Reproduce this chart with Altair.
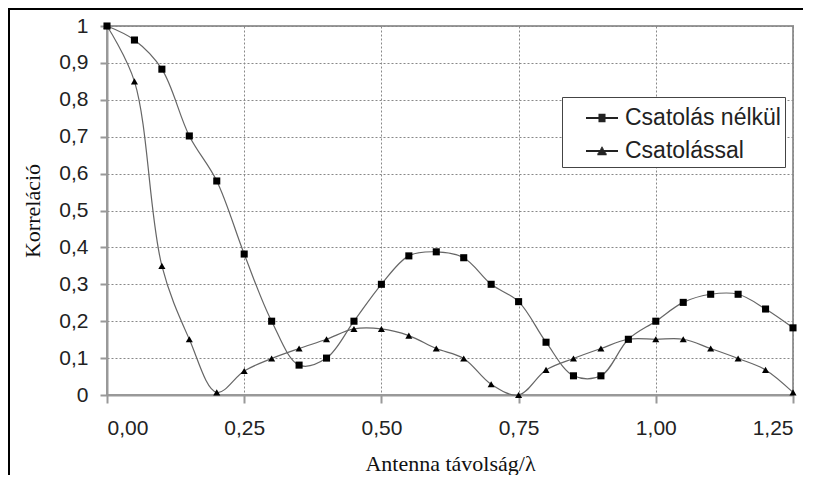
import altair as alt
import pandas as pd

# ---- data ----
x_vals = [0.00, 0.05, 0.10, 0.15, 0.20, 0.25, 0.30, 0.35, 0.40, 0.45, 0.50, 0.55, 0.60,
          0.65, 0.70, 0.75, 0.80, 0.85, 0.90, 0.95, 1.00, 1.05, 1.10, 1.15, 1.20, 1.25]
csatolas_nelkul = [1.00, 0.962, 0.883, 0.702, 0.58, 0.382, 0.20, 0.081, 0.10, 0.20, 0.30, 0.377, 0.388,
                   0.372, 0.30, 0.253, 0.143, 0.052, 0.052, 0.151, 0.20, 0.251, 0.273, 0.273, 0.233, 0.182]
csatolassal = [1.00, 0.85, 0.35, 0.151, 0.007, 0.065, 0.099, 0.126, 0.151, 0.179, 0.179, 0.161, 0.126,
               0.099, 0.029, 0.0, 0.068, 0.099, 0.126, 0.151, 0.151, 0.151, 0.126, 0.099, 0.068, 0.007]
series_names = ["Csatolás nélkül", "Csatolással"]
x_ticks = [0.0, 0.25, 0.5, 0.75, 1.0, 1.25]
y_ticks = [0.0, 0.1, 0.2, 0.3, 0.4, 0.5, 0.6, 0.7, 0.8, 0.9, 1.0]
x_title = "Antenna távolság/λ"
y_title = "Korreláció"

rows = []
for name, vals in zip(series_names, [csatolas_nelkul, csatolassal]):
    for xv, yv in zip(x_vals, vals):
        rows.append({"x": xv, "y": yv, "s": name})
df = pd.DataFrame(rows)

SANS = "Liberation Sans"
SERIF = "Liberation Serif"

x_enc = alt.X(
    "x:Q",
    scale=alt.Scale(domain=[0, 1.25], nice=False, zero=False),
    axis=alt.Axis(
        values=x_ticks,
        labelExpr="replace(format(datum.value, '.2f'), '.', ',')",
        title=x_title,
        grid=True,
        tickSize=8,
        labelPadding=14,
        titlePadding=15,
    ),
)
y_enc = alt.Y(
    "y:Q",
    scale=alt.Scale(domain=[0, 1], nice=False),
    axis=alt.Axis(
        values=y_ticks,
        labelExpr="replace(format(datum.value, '~g'), '.', ',')",
        title=y_title,
        grid=True,
        tickSize=7,
        labelPadding=12,
        titlePadding=14,
    ),
)

lines = alt.Chart(df).mark_line(
    interpolate="catmull-rom", color="#666666", strokeWidth=1.2
).encode(x=x_enc, y=y_enc, detail="s:N")

points = alt.Chart(df).mark_point(
    filled=True, color="black", opacity=1, size=50
).encode(
    x=x_enc,
    y=y_enc,
    shape=alt.Shape(
        "s:N",
        scale=alt.Scale(domain=series_names, range=["square", "triangle-up"]),
        legend=None,
    ),
)

# legend glyphs: a horizontal line with the marker drawn as stacked strokes
sq_path = ("M-1,0H1"
           "M-0.22,-0.2H0.22M-0.22,-0.1H0.22M-0.22,0.1H0.22M-0.22,0.2H0.22")
tri_path = ("M-1,0H1"
            "M-0.05,-0.2H0.05M-0.11,-0.1H0.11M-0.23,0.1H0.23M-0.29,0.2H0.29")

legend_layer = alt.Chart(df).mark_point(
    filled=False, color="black", strokeWidth=2, opacity=1, size=1024
).encode(
    x=x_enc,
    y=y_enc,
    shape=alt.Shape(
        "s:N",
        scale=alt.Scale(domain=series_names, range=[sq_path, tri_path]),
        legend=alt.Legend(
            title=None,
            orient="none",
            legendX=455,
            legendY=71,
            strokeColor="#444444",
            fillColor="white",
            padding=4,
            symbolOffset=19,
            symbolSize=1024,
            symbolStrokeWidth=2,
            symbolStrokeColor="#222222",
            labelFont=SANS,
            labelFontSize=23,
            labelColor="#222222",
            labelOffset=6,
            rowPadding=4,
            labelLimit=400,
        ),
    ),
).transform_filter("datum.x > 10")

frame = alt.Chart(pd.DataFrame({"k": [0]})).mark_rect(
    fillOpacity=0, stroke="black", strokeWidth=2
).encode(
    x=alt.value(-98), x2=alt.value(900), y=alt.value(-17), y2=alt.value(700)
)

chart = alt.layer(frame, lines, points, legend_layer).resolve_scale(
    shape="independent"
).properties(
    width=686,
    height=369,
    autosize=alt.AutoSizeParams(type="none"),
    padding={"left": 99, "top": 18, "right": 10, "bottom": 80},
).configure_view(
    stroke="#999999", strokeWidth=2
).configure_axis(
    domainColor="#999999",
    domainWidth=2,
    tickColor="#999999",
    tickWidth=2,
    gridColor="#888888",
    gridDash=[2, 2],
    gridWidth=1,
    labelFont=SANS,
    labelFontSize=21,
    labelColor="#222222",
    titleFont=SERIF,
    titleFontSize=22,
    titleFontWeight="normal",
    titleColor="#111111",
)

chart.save("out.html", embed_options={"renderer": "svg", "actions": False})
